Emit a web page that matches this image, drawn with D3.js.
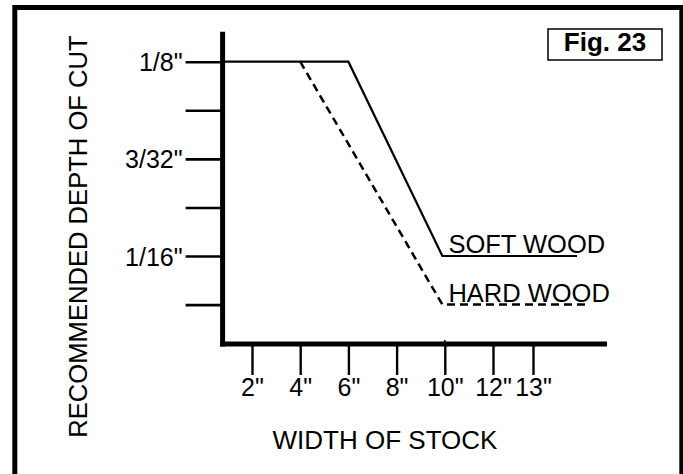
<!DOCTYPE html>
<html>
<head>
<meta charset="utf-8">
<script src="https://cdn.jsdelivr.net/npm/d3@7"></script>
<style>
  html, body { margin: 0; padding: 0; background: #fff; }
  svg { display: block; }
  text { font-family: "Liberation Sans", Arial, Helvetica, sans-serif; fill: #000; }
</style>
</head>
<body>
<svg id="chart" width="683" height="474"></svg>
<script>
// ---- data ----
const xTickValues = [2, 4, 6, 8, 10, 12, 13];
const xTickLabels = ['2"', '4"', '6"', '8"', '10"', '12"', '13"'];
const yTickValues = [1/8, 7/64, 3/32, 5/64, 1/16, 3/64];
const yTickLabels = ['1/8"', '', '3/32"', '', '1/16"', ''];
const softWoodX = [0.78, 6, 9.9, 14.1];
const softWoodY = [1/8, 1/8, 1/16, 1/16];
const hardWoodX = [4, 9.9, 14.35];
const hardWoodY = [1/8, 3/64, 3/64];
const seriesNames = ["SOFT WOOD", "HARD WOOD"];
const xTitle = "WIDTH OF STOCK";
const yTitle = "RECOMMENDED DEPTH OF CUT";
const figLabel = "Fig. 23";
const xExtent = [0.78, 14.85];
const yExtent = [0.0342, 0.13465];

// ---- layout ----
const svg = d3.select("#chart");
svg.append("rect").attr("width", 683).attr("height", 474).attr("fill", "#fff");

// outer frame
svg.append("rect")
  .attr("x", 14.8).attr("y", 7.5).attr("width", 667).attr("height", 480)
  .attr("fill", "none").attr("stroke", "#000").attr("stroke-width", 5);

const x = d3.scaleLinear().domain([2, 12, 13]).range([252, 493, 533]);
const y = d3.scaleLinear().domain([1/16, 1/8]).range([256, 61.7]);

const x0 = x(xExtent[0]), x1 = x(xExtent[1]);
const yTop = y(yExtent[1]), yBot = y(yExtent[0]);

// y ticks
const yAxis = d3.axisLeft(y).tickValues(yTickValues).tickSize(37).tickPadding(3)
  .tickFormat((d, i) => yTickLabels[i]);
const gy = svg.append("g").attr("transform", `translate(${x0},0)`).call(yAxis);
gy.select(".domain").remove();
gy.selectAll(".tick line").attr("stroke", "#000").attr("stroke-width", 2.6);
gy.selectAll(".tick text").attr("font-size", 25).attr("fill", "#000")
  .attr("font-family", '"Liberation Sans", Arial, sans-serif').attr("dy", "0.36em");

// x ticks
const xAxis = d3.axisBottom(x).tickValues(xTickValues).tickSize(31).tickPadding(3)
  .tickFormat((d, i) => xTickLabels[i]);
const gx = svg.append("g").attr("transform", `translate(0,${yBot})`).call(xAxis);
gx.select(".domain").remove();
gx.selectAll(".tick line").attr("stroke", "#000").attr("stroke-width", 2.4);
gx.selectAll(".tick text").attr("font-size", 25).attr("fill", "#000")
  .attr("font-family", '"Liberation Sans", Arial, sans-serif');

// small mark above axis at 10"
svg.append("line").attr("x1", x(10)).attr("x2", x(10))
  .attr("y1", yBot - 4).attr("y2", yBot).attr("stroke", "#000").attr("stroke-width", 1.5);

// axis lines
svg.append("line").attr("x1", x0).attr("x2", x0).attr("y1", yTop).attr("y2", yBot + 2.5)
  .attr("stroke", "#000").attr("stroke-width", 5);
svg.append("line").attr("x1", x0 - 2.5).attr("x2", x1).attr("y1", yBot).attr("y2", yBot)
  .attr("stroke", "#000").attr("stroke-width", 5);

// series
const line = d3.line().x(d => x(d[0])).y(d => y(d[1]));
const soft = softWoodX.map((v, i) => [v, softWoodY[i]]);
const hard = hardWoodX.map((v, i) => [v, hardWoodY[i]]);
svg.append("path").attr("d", line(soft)).attr("fill", "none")
  .attr("stroke", "#000").attr("stroke-width", 2.2);
svg.append("path").attr("d", line(hard)).attr("fill", "none")
  .attr("stroke", "#000").attr("stroke-width", 2.5).attr("stroke-dasharray", "8,5");

// series labels
svg.append("text").attr("x", x(9.9) + 6).attr("y", y(1/16) - 3)
  .attr("font-size", 25.5).text(seriesNames[0]);
svg.append("text").attr("x", x(9.9) + 6).attr("y", y(3/64) - 3)
  .attr("font-size", 25.5).text(seriesNames[1]);

// axis titles
svg.append("text").attr("x", 385).attr("y", 449).attr("text-anchor", "middle")
  .attr("font-size", 26).text(xTitle);
svg.append("text").attr("transform", "translate(87,236.5) rotate(-90)")
  .attr("text-anchor", "middle").attr("font-size", 25.6).text(yTitle);

// figure label box
svg.append("rect").attr("x", 548).attr("y", 29).attr("width", 114).attr("height", 31)
  .attr("fill", "#fff").attr("stroke", "#000").attr("stroke-width", 1.5);
svg.append("text").attr("x", 605).attr("y", 51).attr("text-anchor", "middle")
  .attr("font-size", 26).attr("font-weight", "bold").text(figLabel);
</script>
</body>
</html>
